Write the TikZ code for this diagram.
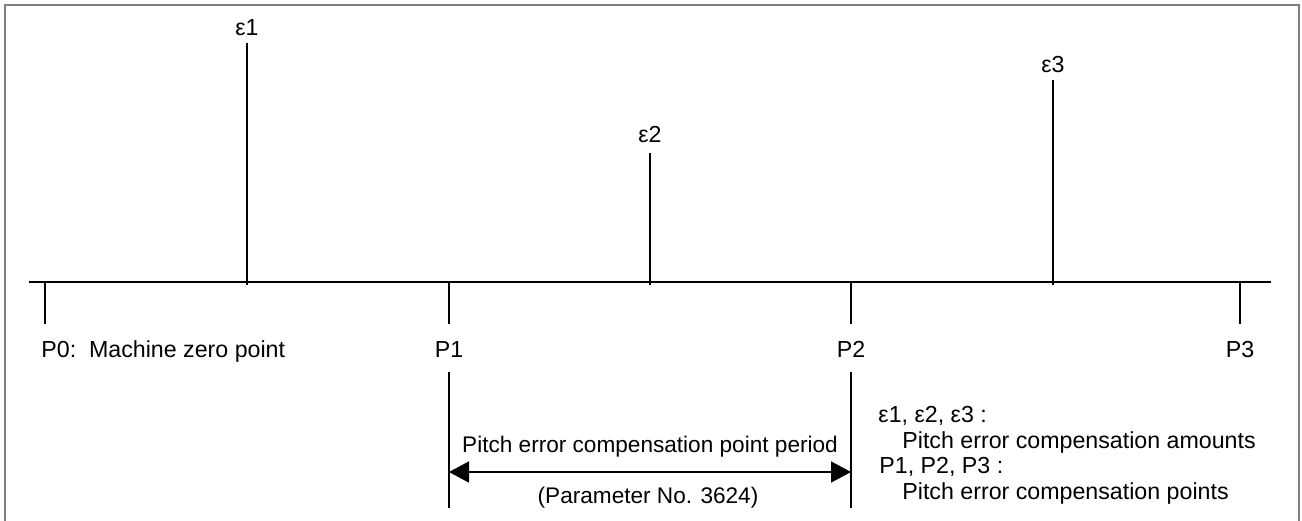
\documentclass[tikz,border=0pt]{standalone}
\usepackage{fontspec}
\setmainfont{Liberation Sans}
\usetikzlibrary{arrows.meta}
\begin{document}
\begin{tikzpicture}[x=0.5pt,y=-0.5pt,
  lbl/.style={font=\fontsize{11.6}{14}\selectfont, inner sep=0pt, anchor=base},
  lbll/.style={lbl, anchor=base west},
  dimlbl/.style={lbl, font=\fontsize{11.3}{14}\selectfont},
  ln/.style={line width=0.8pt, black},
  axisln/.style={line width=0.9pt, black},
  frame/.style={line width=1.4pt, color=black!50},
  dim/.style={line width=0.8pt, {Triangle[length=10pt,width=10.5pt]}-{Triangle[length=10pt,width=10.5pt]}}]
\useasboundingbox (0,0) rectangle (1302,520);
\draw[frame] (5,522) -- (5,5) -- (1299,5) -- (1299,522);
% axis
\coordinate (axL) at (29,282);
\coordinate (axR) at (1271,282);
\draw[axisln] (axL) -- (axR);
% compensation amounts
\node[lbl] (e1) at (247,35) {ε1};
\node[lbl] (e2) at (650,142) {ε2};
\node[lbl] (e3) at (1053,72) {ε3};
\coordinate (e1t) at (247,43); \coordinate (e1b) at (247,285);
\coordinate (e2t) at (650,153); \coordinate (e2b) at (650,285);
\coordinate (e3t) at (1053,80); \coordinate (e3b) at (1053,285);
\draw[ln] (e1t) -- (e1b);
\draw[ln] (e2t) -- (e2b);
\draw[ln] (e3t) -- (e3b);
% points
\coordinate (p0t) at (45,282); \coordinate (p0b) at (45,324);
\coordinate (p1t) at (449,282); \coordinate (p1b) at (449,324);
\coordinate (p2t) at (851,282); \coordinate (p2b) at (851,324);
\coordinate (p3t) at (1240,282); \coordinate (p3b) at (1240,324);
\draw[ln] (p0t) -- (p0b);
\draw[ln] (p1t) -- (p1b);
\draw[ln] (p2t) -- (p2b);
\draw[ln] (p3t) -- (p3b);
\node[lbll] (p0) at (41,357) {P0:\ \ Machine zero point};
\node[lbl] (p1) at (449,357) {P1};
\node[lbl] (p2) at (851,357) {P2};
\node[lbl] (p3) at (1240,357) {P3};
% dimension
\coordinate (d1t) at (449,372); \coordinate (d1b) at (449,508);
\coordinate (d2t) at (851,372); \coordinate (d2b) at (851,508);
\draw[ln] (d1t) -- (d1b);
\draw[ln] (d2t) -- (d2b);
\coordinate (a1) at (449,472); \coordinate (a2) at (851,472);
\draw[dim] (a1) -- (a2);
\node[dimlbl] (per) at (650,452) {Pitch error compensation point period};
\node[dimlbl] (par) at (648,503) {(Parameter No. 3624)};
% legend
\node[lbll] (lg1) at (878,422) {ε1, ε2, ε3 :};
\node[lbll] (lg2) at (902,448) {Pitch error compensation amounts};
\node[lbll] (lg3) at (879,473) {P1, P2, P3 :};
\node[lbll] (lg4) at (902,499) {Pitch error compensation points};
\end{tikzpicture}
\end{document}
